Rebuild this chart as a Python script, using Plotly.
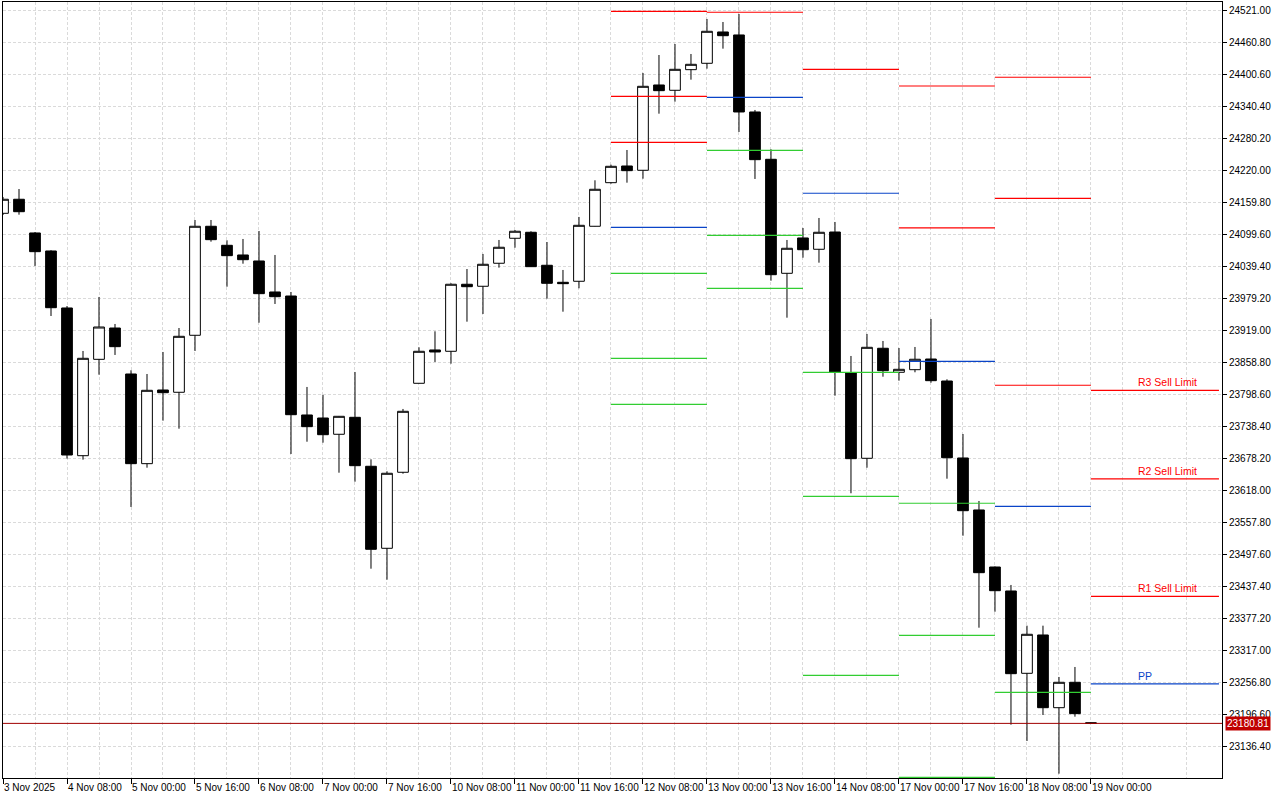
import plotly.graph_objects as go

# ---------------- data ----------------
bar_index = list(range(69))

opens = [24140.4, 24166.8, 24103.4, 24069.5, 23962.3, 23684.4, 23865.7, 23924.6, 23838.1, 23669.4,
         23808.0, 23803.7, 23910.9, 24116.0, 24080.2, 24062.0, 24050.7, 23992.4, 23984.8, 23761.0,
         23755.3, 23724.7, 23756.6, 23664.5, 23510.2, 23653.2, 23820.6, 23883.3, 23880.8, 24006.9,
         24003.1, 24046.4, 24093.4, 24104.7, 24042.6, 24010.6, 24012.5, 24116.0, 24198.0, 24229.4,
         24221.3, 24381.8, 24371.8, 24410.6, 24422.6, 24481.5, 24475.9, 24331.0, 24242.0, 24027.5,
         24094.0, 24072.7, 24105.2, 23840.6, 23679.5, 23886.5, 23841.3, 23846.2, 23866.3, 23824.9,
         23680.1, 23582.3, 23475.0, 23429.9, 23275.0, 23347.1, 23210.3, 23258.1, 23182.0]
highs = [24171.1, 24186.1, 24105.2, 24071.0, 23966.0, 23881.4, 23983.0, 23932.2, 23845.1, 23838.1,
         23879.5, 23924.6, 24127.8, 24127.8, 24089.6, 24092.1, 24107.1, 24062.0, 23992.4, 23813.7,
         23798.6, 23759.1, 23841.9, 23677.6, 23655.1, 23772.3, 23888.3, 23918.4, 24008.7, 24035.6,
         24063.9, 24090.2, 24109.0, 24106.6, 24086.4, 24033.8, 24133.5, 24202.5, 24231.9, 24259.5,
         24404.4, 24438.2, 24458.9, 24440.1, 24506.0, 24500.3, 24515.4, 24334.8, 24260.8, 24090.2,
         24112.8, 24131.6, 24124.1, 23872.0, 23913.4, 23900.2, 23887.0, 23888.9, 23941.6, 23828.1,
         23725.2, 23599.2, 23476.0, 23441.2, 23364.6, 23364.6, 23268.1, 23286.9, 23182.5]
lows = [24137.2, 24137.8, 24041.3, 23947.2, 23678.8, 23676.9, 23836.8, 23873.9, 23587.9, 23661.8,
        23750.3, 23735.2, 23881.4, 24087.0, 24002.3, 24045.6, 23934.6, 23969.8, 23687.6, 23710.7,
        23708.9, 23652.4, 23635.5, 23471.8, 23451.1, 23650.5, 23820.2, 23860.7, 23857.5, 23936.5,
        23951.0, 24038.1, 24075.7, 24039.4, 23979.8, 23955.3, 23999.3, 24115.6, 24196.1, 24198.0,
        24205.5, 24327.8, 24350.4, 24391.8, 24412.5, 24450.1, 24293.4, 24205.0, 24013.6, 23944.0,
        24056.9, 24047.5, 23797.3, 23613.7, 23661.8, 23833.0, 23825.5, 23841.3, 23821.7, 23641.1,
        23533.9, 23360.8, 23390.9, 23178.4, 23147.7, 23196.6, 23086.2, 23193.4, 23180.81]
closes = [24166.8, 24143.4, 24068.2, 23962.8, 23685.7, 23867.6, 23926.5, 23889.5, 23669.4, 23807.4,
          23802.9, 23909.0, 24116.0, 24090.8, 24060.7, 24053.1, 23989.2, 23983.5, 23761.5, 23739.0,
          23723.9, 23758.5, 23665.6, 23508.3, 23651.3, 23767.9, 23880.8, 23879.5, 24006.9, 24002.3,
          24044.5, 24076.5, 24106.6, 24040.0, 24008.7, 24008.0, 24117.8, 24185.6, 24228.8, 24220.6,
          24379.3, 24371.1, 24411.3, 24420.7, 24482.8, 24474.5, 24331.0, 24241.3, 24024.9, 24074.6,
          24071.9, 24104.7, 23841.9, 23678.8, 23888.3, 23844.3, 23846.9, 23865.8, 23825.5, 23680.6,
          23580.9, 23464.3, 23430.4, 23274.3, 23348.4, 23210.3, 23258.1, 23199.1, 23180.81]

x_tick_index = [0, 4, 8, 12, 16, 20, 24, 28, 32, 36, 40, 44, 48, 52, 56, 60, 64, 68]
x_tick_labels = ["3 Nov 2025", "4 Nov 08:00", "5 Nov 00:00", "5 Nov 16:00", "6 Nov 08:00",
                 "7 Nov 00:00", "7 Nov 16:00", "10 Nov 08:00", "11 Nov 00:00", "11 Nov 16:00",
                 "12 Nov 08:00", "13 Nov 00:00", "13 Nov 16:00", "14 Nov 08:00", "17 Nov 00:00",
                 "17 Nov 16:00", "18 Nov 08:00", "19 Nov 00:00"]

y_tick_values = [23136.40, 23196.60, 23256.80, 23317.00, 23377.20, 23437.40, 23497.60, 23557.80,
                 23618.00, 23678.20, 23738.40, 23798.60, 23858.80, 23919.00, 23979.20, 24039.40,
                 24099.60, 24159.80, 24220.00, 24280.20, 24340.40, 24400.60, 24460.80, 24521.00]

# daily pivot levels (first bar index of each day, last bar index)
pivot_day_start = [38, 44, 50, 56, 62, 68]
pivot_day_end = [44, 50, 56, 62, 68, 76]
R3 = [24520.4, None, None, None, 24396.3, 23807.4]
R2 = [24360.5, None, None, 24379.9, 24168.6, 23640.6]
R1 = [24274.0, 24518.6, 24411.3, 24112.8, 23816.9, 23419.9]
PP = [24114.1, 24358.6, 24178.1, 23862.0, 23589.2, 23255.0]
S1 = [24027.5, 24258.9, 23841.3, 23594.9, 23239.3, None]
S2 = [23867.6, 24099.0, 23608.0, 23346.5, None, None]
S3 = [23781.1, 23999.3, 23271.3, 23079.4, None, None]

last_day_labels = {"R3": "R3 Sell Limit", "R2": "R2 Sell Limit", "R1": "R1 Sell Limit", "PP": "PP"}
bid_price = 23180.81

# ---------------- styles ----------------
RED = "#FF0000"
BLUE = "#0A44C8"
GREEN = "#32CD32"
GRID = "#DADADA"
FONT = "Liberation Sans"

fig = go.Figure()

# pivot segments
def segs(levels):
    xs, ys = [], []
    for s, e, v in zip(pivot_day_start, pivot_day_end, levels):
        if v is None:
            continue
        xs += [s, e, None]
        ys += [v, v, None]
    return xs, ys

for levels, col in [(R3, RED), (R2, RED), (R1, RED), (PP, BLUE), (S1, GREEN), (S2, GREEN), (S3, GREEN)]:
    xs, ys = segs(levels)
    fig.add_trace(go.Scatter(x=xs, y=ys, mode="lines", line=dict(color=col, width=1.2),
                             hoverinfo="skip", showlegend=False))

fig.add_trace(go.Candlestick(
    x=bar_index, open=opens, high=highs, low=lows, close=closes,
    increasing=dict(line=dict(color="black", width=1), fillcolor="white"),
    decreasing=dict(line=dict(color="black", width=1), fillcolor="black"),
    whiskerwidth=0, showlegend=False, hoverinfo="skip"))

# bid line
fig.add_shape(type="line", xref="paper", x0=0, x1=1, y0=bid_price, y1=bid_price,
              line=dict(color="#A00000", width=1))

# labels for last day's levels
for key, levels, col in [("R3", R3, RED), ("R2", R2, RED), ("R1", R1, RED), ("PP", PP, BLUE)]:
    fig.add_annotation(x=70.8, y=levels[-1], text=last_day_labels[key], showarrow=False,
                       xanchor="left", yanchor="bottom", yshift=0,
                       font=dict(family=FONT, size=10.5, color=col))

# price label
fig.add_annotation(xref="paper", x=1, y=bid_price, text=f"{bid_price:.2f}", showarrow=False,
                   xanchor="left", yanchor="middle", xshift=3, bgcolor="#C00000",
                   borderpad=1, font=dict(family=FONT, size=10, color="white"))

fig.update_layout(
    width=1280, height=800,
    margin=dict(l=3, r=58, t=2, b=22, autoexpand=False),
    paper_bgcolor="white", plot_bgcolor="white",
    boxgap=0.33, boxgroupgap=0,
    font=dict(family=FONT, size=10, color="black"),
    showlegend=False,
    xaxis=dict(
        range=[0, 76.19], rangeslider=dict(visible=False), automargin=False,
        tickmode="array", tickvals=x_tick_index, ticktext=x_tick_labels, tickangle=0,
        ticks="outside", ticklen=5, tickcolor="black", ticklabelposition="outside right",
        showgrid=True, gridcolor=GRID, griddash="3px,2px", gridwidth=1,
        minor=dict(tickvals=list(range(2, 77, 4)), showgrid=True, gridcolor=GRID,
                   griddash="3px,2px", gridwidth=1, ticks=""),
        showline=True, linecolor="black", linewidth=1, mirror=True,
        zeroline=False, fixedrange=True,
        tickfont=dict(family=FONT, size=10, color="black"),
    ),
    yaxis=dict(
        side="right", range=[23078.05, 24537.9], automargin=False,
        tickmode="array", tickvals=y_tick_values,
        ticktext=[f"{v:.2f}" for v in y_tick_values],
        ticks="outside", ticklen=4, tickcolor="black",
        showgrid=True, gridcolor=GRID, griddash="3px,2px", gridwidth=1,
        showline=True, linecolor="black", linewidth=1, mirror=True,
        zeroline=False, fixedrange=True,
        tickfont=dict(family=FONT, size=10, color="black"),
    ),
)

fig.write_html("out.html", config={"displayModeBar": False},
               post_script="document.body.style.margin='0';document.body.style.overflow='hidden';")
